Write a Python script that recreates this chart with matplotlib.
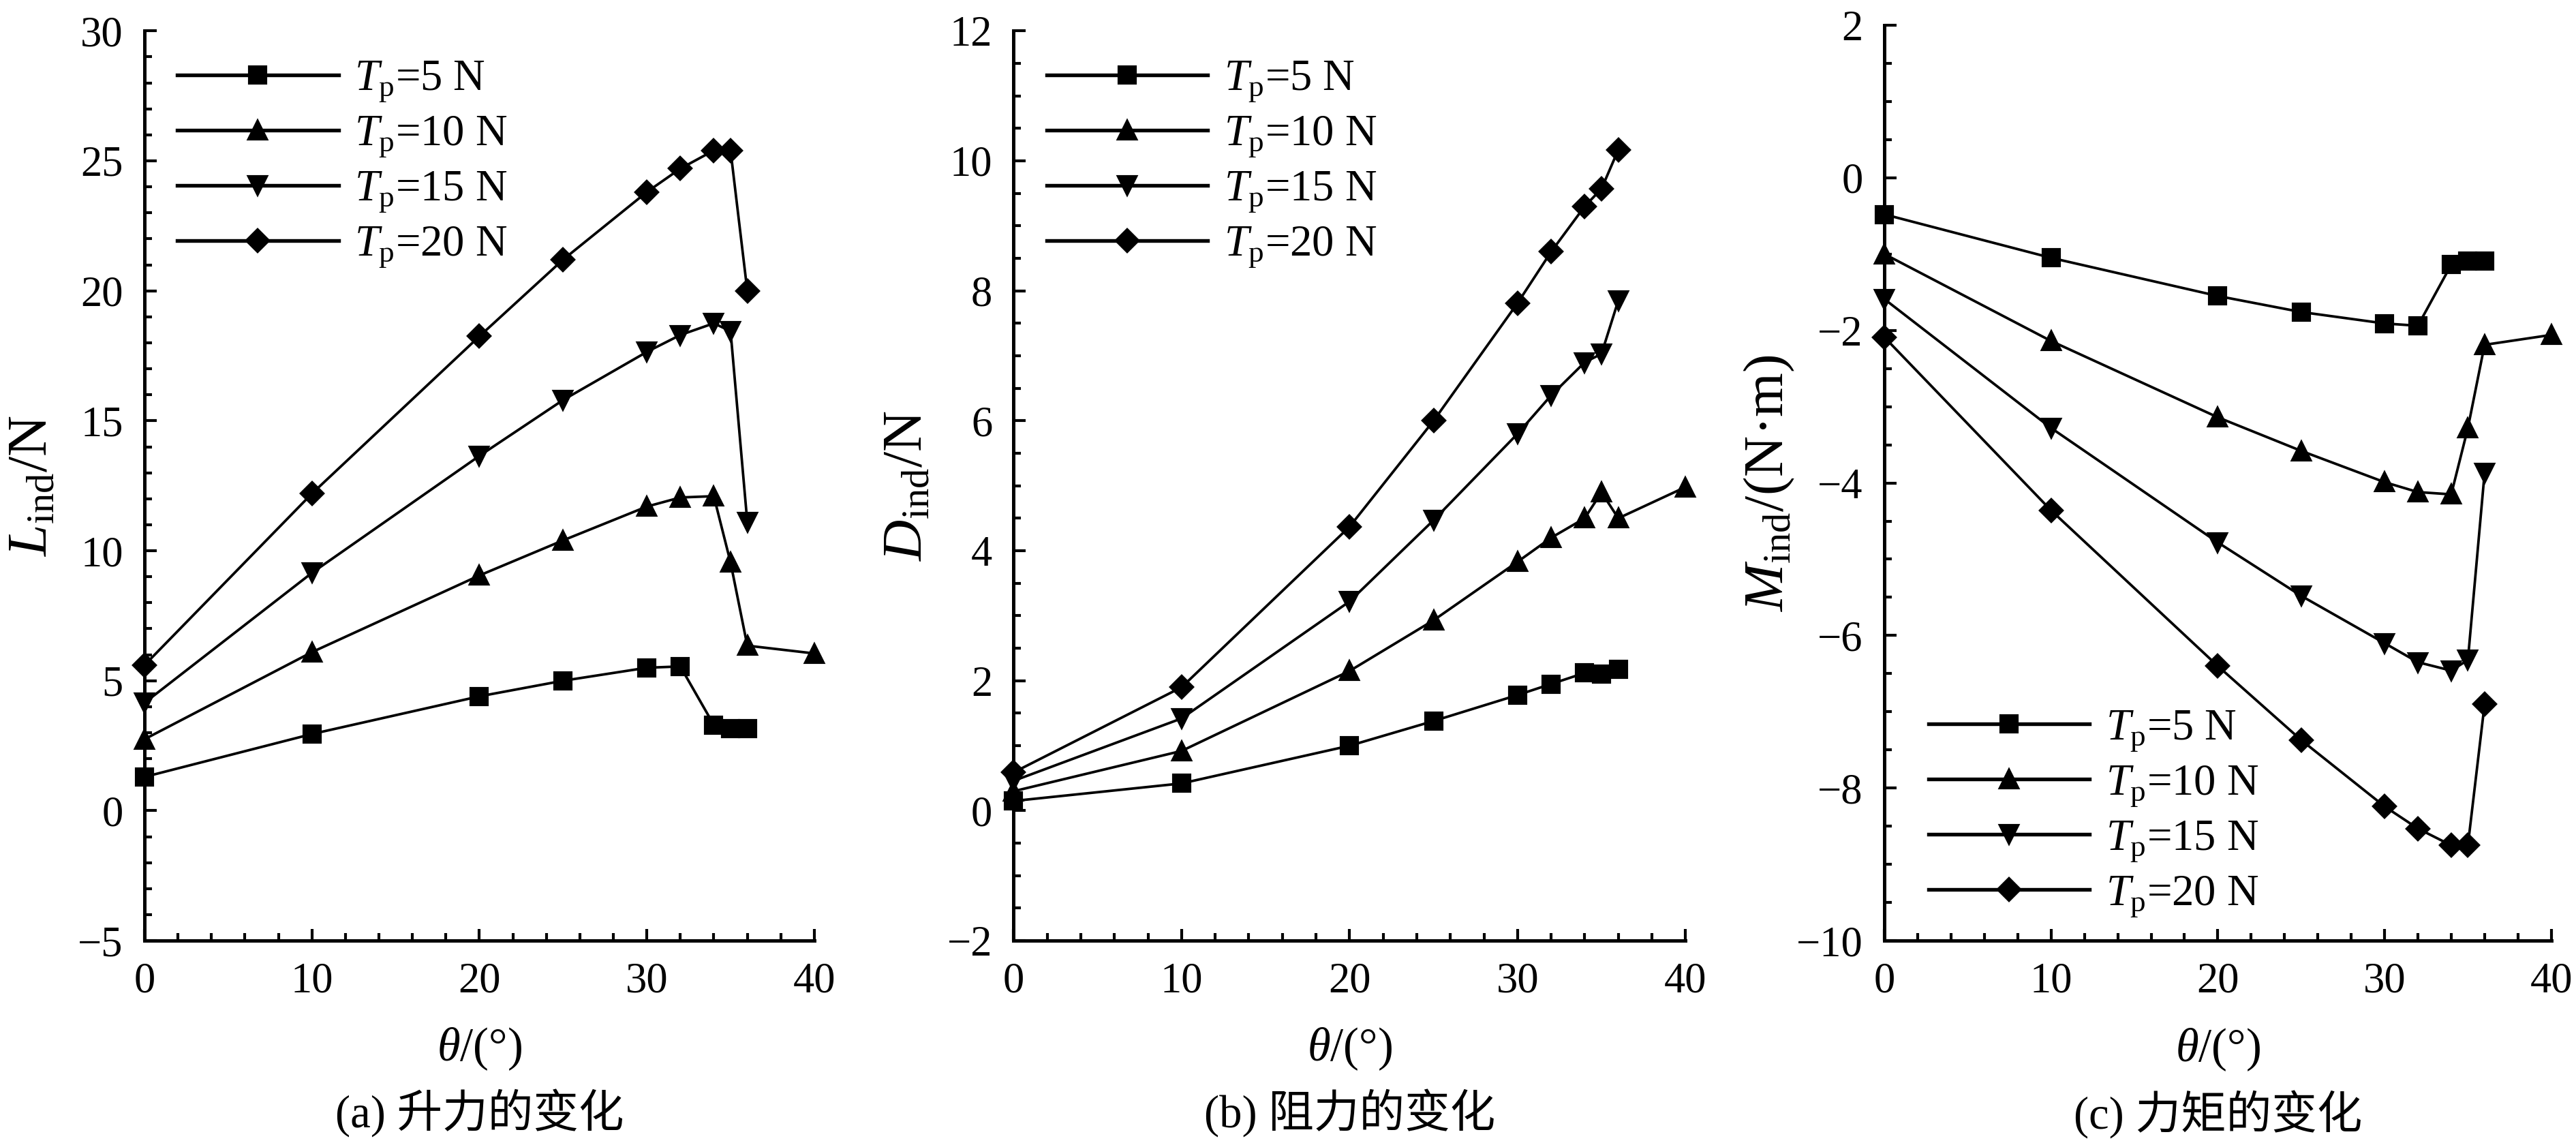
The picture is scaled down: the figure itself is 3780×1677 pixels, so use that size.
import numpy as np
import matplotlib
matplotlib.use("Agg")
import matplotlib.pyplot as plt
from matplotlib.ticker import MultipleLocator

plt.rcParams['font.family'] = ['Liberation Serif', 'Noto Sans CJK SC', 'DejaVu Sans']
plt.rcParams['mathtext.fontset'] = 'custom'
plt.rcParams['mathtext.rm'] = 'Liberation Serif'
plt.rcParams['mathtext.it'] = 'Liberation Serif:italic'
plt.rcParams['mathtext.bf'] = 'Liberation Serif:bold'

# -------------------------------
# data
# -------------------------------
theta_a = [0, 10, 20, 25, 30, 32, 34, 35, 36]
theta_b = [0, 10, 20, 25, 30, 32, 34, 35, 36, 40]

labels = ["$T_\\mathrm{p}$=5 N", "$T_\\mathrm{p}$=10 N",
          "$T_\\mathrm{p}$=15 N", "$T_\\mathrm{p}$=20 N"]
markers = ["s", "^", "v", "D"]

# lift
lift_5 = [1.3, 2.95, 4.4, 5.0, 5.5, 5.55, 3.3, 3.15, 3.15]
lift_10 = [2.75, 6.1, 9.05, 10.4, 11.7, 12.05, 12.1, 9.55, 6.35, 6.05]
lift_15 = [4.15, 9.15, 13.65, 15.8, 17.65, 18.3, 18.75, 18.45, 11.1]
lift_20 = [5.6, 12.2, 18.25, 21.2, 23.8, 24.7, 25.4, 25.4, 20.0]

# drag
drag_5 = [0.15, 0.42, 1.0, 1.38, 1.78, 1.95, 2.12, 2.1, 2.18]
drag_10 = [0.3, 0.92, 2.15, 2.93, 3.83, 4.2, 4.5, 4.9, 4.5, 4.98]
drag_15 = [0.46, 1.42, 3.22, 4.47, 5.8, 6.39, 6.9, 7.03, 7.85]
drag_20 = [0.59, 1.9, 4.37, 6.0, 7.81, 8.6, 9.3, 9.57, 10.17]

# moment
mom_5 = [-0.48, -1.05, -1.55, -1.76, -1.91, -1.94, -1.14, -1.09, -1.09]
mom_10 = [-1.0, -2.14, -3.14, -3.58, -3.99, -4.12, -4.15, -3.28, -2.19, -2.06]
mom_15 = [-1.59, -3.28, -4.78, -5.48, -6.1, -6.35, -6.46, -6.32, -3.87]
mom_20 = [-2.09, -4.36, -6.4, -7.37, -8.24, -8.53, -8.75, -8.75, -6.9]

panels = [
    dict(series=[lift_5, lift_10, lift_15, lift_20], ylim=(-5, 30), major=5, minor=1,
         ylabel="$L_\\mathrm{ind}$/N", caption="(a) 升力的变化",
         pos=[0.0561, 0.177, 0.2600, 0.796], ylab_x=-0.167,
         leg_loc="upper left", leg_anchor=(0.049, 0.969)),
    dict(series=[drag_5, drag_10, drag_15, drag_20], ylim=(-2, 12), major=2, minor=0.5,
         ylabel="$D_\\mathrm{ind}$/N", caption="(b) 阻力的变化",
         pos=[0.3935, 0.177, 0.2608, 0.796], ylab_x=-0.157,
         leg_loc="upper left", leg_anchor=(0.049, 0.969)),
    dict(series=[mom_5, mom_10, mom_15, mom_20], ylim=(-10, 2), major=2, minor=0.5,
         ylabel="$M_\\mathrm{ind}$/(N·m)", caption="(c) 力矩的变化",
         pos=[0.7315, 0.177, 0.2589, 0.801], ylab_x=-0.172,
         leg_loc="lower left", leg_anchor=(0.066, 0.024)),
]

fs_tick = 15
fs_leg = 15.5
fs_xlab = 16.5
fs_ylab = 20
fs_cap = 16

msize = {"s": 5.6, "^": 6.4, "v": 6.4, "D": 5.4}

fig = plt.figure(figsize=(12.6, 5.59), dpi=300)

for p in panels:
    ax = fig.add_axes(p["pos"])
    for ys, lab, mk in zip(p["series"], labels, markers):
        xs = theta_b if len(ys) == len(theta_b) else theta_a
        ax.plot(xs, ys, color="black", lw=0.9, marker=mk, ms=msize[mk],
                label=lab, clip_on=False, zorder=3)

    ax.set_xlim(0, 40)
    ax.set_ylim(*p["ylim"])
    ax.xaxis.set_major_locator(MultipleLocator(10))
    ax.xaxis.set_minor_locator(MultipleLocator(2))
    ax.yaxis.set_major_locator(MultipleLocator(p["major"]))
    ax.yaxis.set_minor_locator(MultipleLocator(p["minor"]))

    for s in ["top", "right"]:
        ax.spines[s].set_visible(False)
    for s in ["left", "bottom"]:
        ax.spines[s].set_linewidth(1.2)

    ax.tick_params(which="major", direction="in", length=4.2, width=1.0,
                   labelsize=fs_tick, pad=7.5)
    ax.tick_params(which="minor", direction="in", length=2.6, width=1.0)

    ax.set_xlabel("$\\theta$/(°)", fontsize=fs_xlab)
    ax.xaxis.label.set_va("center")
    ax.xaxis.set_label_coords(0.5, -0.119)
    ax.set_ylabel(p["ylabel"], fontsize=fs_ylab)
    ax.yaxis.label.set_va("center")
    ax.yaxis.set_label_coords(p["ylab_x"], 0.5)

    leg = ax.legend(loc=p["leg_loc"], bbox_to_anchor=p["leg_anchor"], frameon=False,
                    fontsize=fs_leg, handlelength=3.66, handletextpad=0.37,
                    labelspacing=0.24, numpoints=1, borderaxespad=0, borderpad=0)
    for ln in leg.get_lines():
        ln.set_linewidth(1.3)

    ax.text(0.5, -0.19, p["caption"], transform=ax.transAxes, ha="center", va="center",
            fontsize=fs_cap)

fig.savefig("out.png", dpi=300)
